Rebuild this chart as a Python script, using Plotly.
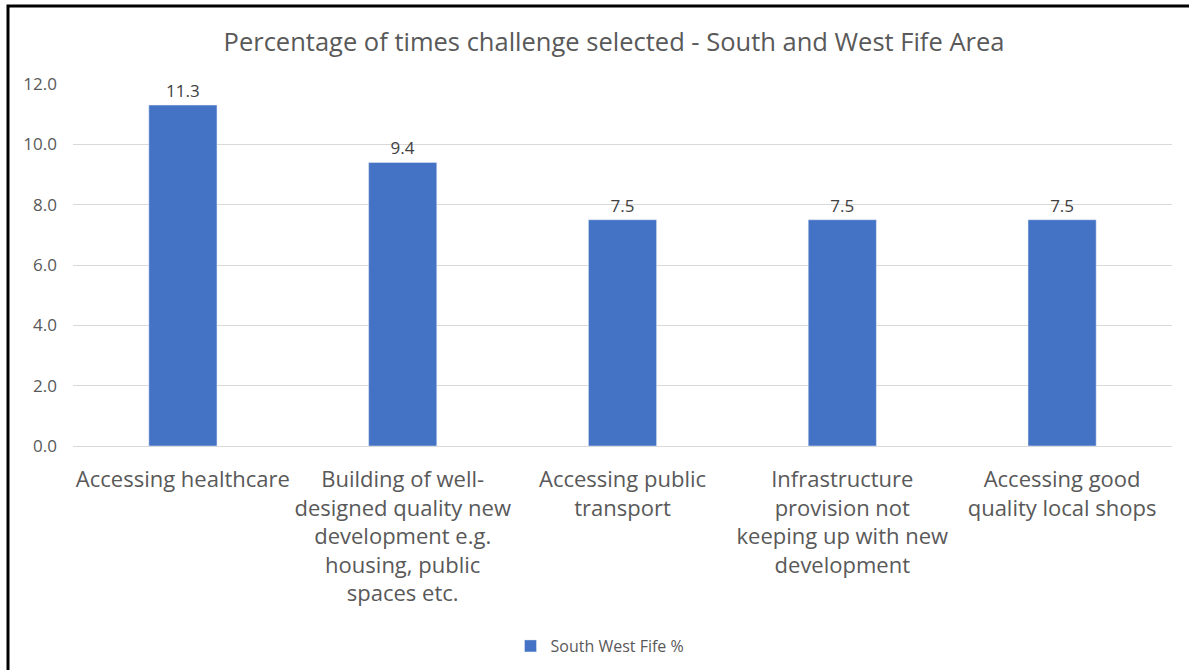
import plotly.graph_objects as go

# data
categories = [
    "Accessing healthcare",
    "Building of well-<br>designed quality new<br>development e.g.<br>housing, public<br>spaces etc.",
    "Accessing public<br>transport",
    "Infrastructure<br>provision not<br>keeping up with new<br>development",
    "Accessing good<br>quality local shops",
]
values = [11.3, 9.4, 7.5, 7.5, 7.5]
series_name = "South West Fife %"
y_ticks = [0, 2, 4, 6, 8, 10, 12]

BAR = "#4472C4"
TXT = "#595959"
FONT = "Open Sans, Noto Sans, sans-serif"

W, H = 1189, 670
ML, MR, MT, MB = 73, 17, 84, 224
PW, PH = W - ML - MR, H - MT - MB

fig = go.Figure()
fig.add_trace(go.Bar(
    x=categories, y=values, name=series_name,
    marker_color=BAR,
    text=[f"{v:.1f}" for v in values],
    textposition="outside",
    textfont=dict(size=17, color="#404040", family=FONT),
    cliponaxis=False,
))

# chart border (left and top edges visible)
def px_x(p):
    return (p - ML) / PW

def px_y(p):
    return (H - MB - p) / PH

fig.add_shape(
    type="path", xref="paper", yref="paper",
    path=f"M {px_x(8)} {px_y(700)} L {px_x(8)} {px_y(6)} L {px_x(1200)} {px_y(6)}",
    line=dict(color="black", width=3),
)

fig.update_layout(
    width=W, height=H,
    margin=dict(l=ML, r=MR, t=MT, b=MB),
    paper_bgcolor="white", plot_bgcolor="white",
    font=dict(family=FONT, color=TXT),
    title=dict(
        text="Percentage of times challenge selected - South and West Fife Area",
        x=614 / W, xanchor="center", xref="container",
        y=1 - 42 / H, yanchor="middle", yref="container",
        font=dict(size=25.5, color=TXT, family=FONT),
    ),
    bargap=0.69,
    showlegend=True,
    legend=dict(
        orientation="h", x=600 / W, xanchor="center", xref="container",
        y=(H - 646) / H, yanchor="middle", yref="container",
        font=dict(size=16, color=TXT, family=FONT),
    ),
    xaxis=dict(
        tickfont=dict(size=22, color=TXT, family=FONT),
        showgrid=False, showline=False, ticks="",
        tickangle=0, ticklabelstandoff=18,
    ),
    yaxis=dict(
        range=[0, 12], tickvals=y_ticks, tickformat=".1f",
        tickfont=dict(size=17, color=TXT, family=FONT),
        gridcolor="#D9D9D9", gridwidth=1,
        zeroline=True, zerolinecolor="#D9D9D9", zerolinewidth=1,
        showline=False, ticks="", ticklabelstandoff=15,
    ),
)

# the page body has a default margin; remove it so the figure sits at 0,0
fig.write_html(
    "out.html",
    config={"displayModeBar": False},
    post_script="document.body.style.margin='0';",
)
